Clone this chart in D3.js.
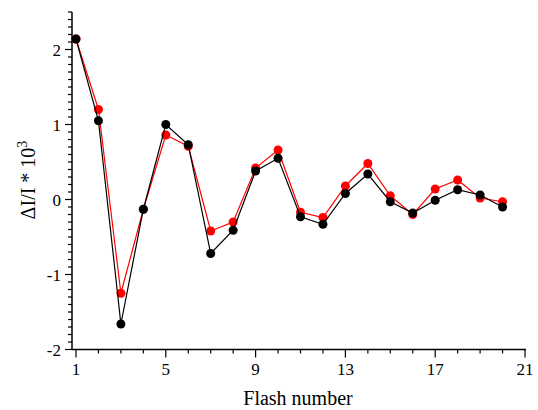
<!DOCTYPE html>
<html><head><meta charset="utf-8">
<script src="https://cdn.jsdelivr.net/npm/d3@7"></script>
<style>body{margin:0;background:#fff}svg{display:block}text{font-family:"Liberation Serif","Times New Roman",serif}</style>
</head><body><svg id="c" width="538" height="410"></svg>
<script>
const flashes = [1,2,3,4,5,6,7,8,9,10,11,12,13,14,15,16,17,18,19,20];
const redValues = [2.14,1.20,-1.25,-0.13,0.86,0.71,-0.42,-0.30,0.42,0.66,-0.17,-0.24,0.18,0.48,0.05,-0.20,0.14,0.26,0.02,-0.03];
const blackValues = [2.14,1.05,-1.66,-0.13,1.00,0.73,-0.72,-0.41,0.38,0.55,-0.23,-0.33,0.08,0.34,-0.03,-0.18,-0.01,0.13,0.06,-0.10];
const xTickLabels = [1,5,9,13,17,21];
const yTickLabels = [-2,-1,0,1,2];

const svg = d3.select("#c");
const x = d3.scaleLinear().domain([1,21]).range([76,525]);
const y = d3.scaleLinear().domain([-2,2]).range([349.5,49.5]);
const x0 = 72, yTop = y(2.5), yBase = y(-2);

// axes lines
svg.append("line").attr("x1",x0).attr("x2",x0).attr("y1",yTop).attr("y2",yBase).attr("stroke","#000").attr("stroke-width",1.5);
svg.append("line").attr("x1",x0).attr("x2",x(21)+1).attr("y1",yBase).attr("y2",yBase).attr("stroke","#000").attr("stroke-width",1.5);

// y ticks
const yMinor = d3.range(-20,26).map(d=>d/10);
svg.selectAll(".ym").data(yMinor).join("line")
  .attr("x1",x0).attr("x2",d=>Math.abs(d-Math.round(d))<1e-6?x0-7:x0-4)
  .attr("y1",d=>y(d)).attr("y2",d=>y(d)).attr("stroke","#000").attr("stroke-width",1.2);
svg.selectAll(".yl").data(yTickLabels).join("text")
  .attr("x",61).attr("y",d=>y(d)+6).attr("text-anchor","end").attr("font-size",17).text(d=>d);

// x ticks
const xMinor = d3.range(1,22);
svg.selectAll(".xm").data(xMinor).join("line")
  .attr("x1",d=>x(d)).attr("x2",d=>x(d))
  .attr("y1",yBase).attr("y2",d=>xTickLabels.includes(d)?yBase+8:yBase+4)
  .attr("stroke","#000").attr("stroke-width",1.2);
svg.selectAll(".xl").data(xTickLabels).join("text")
  .attr("x",d=>x(d)).attr("y",375).attr("text-anchor","middle").attr("font-size",17).text(d=>d);

// titles
svg.append("text").attr("x",298).attr("y",405).attr("text-anchor","middle").attr("font-size",20).text("Flash number");
const yt = svg.append("text").attr("transform","translate(35,180) rotate(-90)").attr("text-anchor","middle").attr("font-size",20);
yt.append("tspan").text("ΔI/I * 10");
yt.append("tspan").attr("dy",-8).attr("font-size",14).text("3");

// series
const line = d3.line().x((d,i)=>x(flashes[i])).y(d=>y(d));
function series(vals,color){
  svg.append("path").datum(vals).attr("d",line).attr("fill","none").attr("stroke",color).attr("stroke-width",1.2);
  svg.selectAll(null).data(vals).join("circle")
    .attr("cx",(d,i)=>x(flashes[i])).attr("cy",d=>y(d)).attr("r",4.5).attr("fill",color);
}
series(redValues,"#ff0000");
series(blackValues,"#000000");
</script></body></html>
